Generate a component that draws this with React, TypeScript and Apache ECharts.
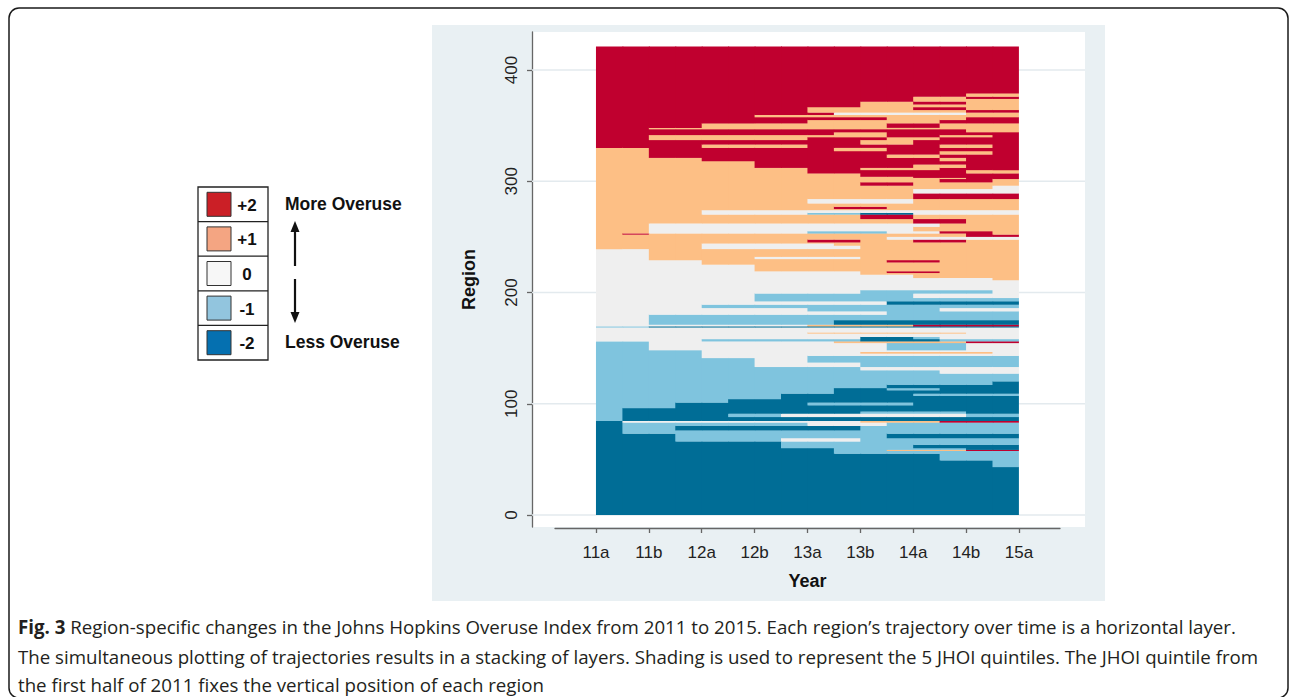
import React, { useEffect, useRef } from 'react';
import * as echarts from 'echarts';

// ---------- data ----------
const periodLabels = ['11a', '11b', '12a', '12b', '13a', '13b', '14a', '14b', '15a'];
const periodValues = [0, 1, 2, 3, 4, 5, 6, 7, 8];
const yTicks = [0, 100, 200, 300, 400];
const legendLabels = ['+2', '+1', '0', '-1', '-2'];
// quintile code in trajectories: 0=-2, 1=-1, 2=0, 3=+1, 4=+2
const chartColors = ['#006d96', '#7fc4de', '#efefef', '#fdbf85', '#c0002f'];
const legendColors = ['#cb1f26', '#f4a582', '#f7f7f7', '#92c5de', '#0570b0'];

// each band: [top region rank, quintile per half-period (16 steps from 11a to 15a)]
const bandsStartMinus2: [number, string][] = [
  [43, '0000000000000000'],
  [49, '0000000000000001'],
  [55, '0000000000000111'],
  [57.5, '0000000001111111'],
  [58.5, '0000000001133344'],
  [60, '0000000001111100'],
  [63, '0000000111110000'],
  [66, '0000000111111111'],
  [69, '0001111222111111'],
  [73, '0001111111100000'],
  [76, '0111111111111111'],
  [80, '0110000000111111'],
  [83, '0111111122211111'],
  [84.5, '0222222222333444'],
];
const bandsStartMinus1: [number, string][] = [
  [88, '1000000000000000'],
  [91, '1000011222222211'],
  [93, '1000000000111100'],
  [96, '1000000000000000'],
  [98.5, '1110000000000000'],
  [101, '1110000011110000'],
  [104, '1111100000000000'],
  [107, '1111111000000000'],
  [109, '1111111000001111'],
  [112, '1111111110000000'],
  [114, '1111111110011000'],
  [117, '1111111111100000'],
  [120, '1111111111111110'],
  [127, '1111111111111111'],
  [130, '1111111111111222'],
  [133, '1111111111222222'],
  [137, '1111112222111111'],
  [141, '1111112211111111'],
  [143, '1111222211111111'],
  [145, '1111222222222222'],
  [146.5, '1111222222333332'],
  [148, '1111222222222222'],
  [154.5, '1122222222211122'],
  [156, '1122222223333344'],
];
const bandsStartZero: [number, string][] = [
  [158, '2222111111000111'],
  [160, '2222222222001222'],
  [163, '2222222222222222'],
  [164, '2222222233333322'],
  [168.5, '2222222222222222'],
  [169.5, '1100000000000000'],
  [171, '2222222233334444'],
  [175, '2211111110000000'],
  [180, '2211111111111111'],
  [183, '2222222222211111'],
  [186, '2222222211111222'],
  [189, '2222111111111111'],
  [192, '2222222222200000'],
  [195, '2222221111111111'],
  [199, '2222221111112222'],
  [202, '2222222222111112'],
  [211, '2222222222222222'],
  [213, '2222222222222223'],
  [216, '2222222222223333'],
  [217.5, '2222222222333333'],
  [219, '2222222222344333'],
  [225, '2222223333333333'],
  [227, '2222333333333333'],
  [229, '2222333333344333'],
  [230, '2233333333333333'],
  [232, '2233332222333333'],
  [239, '2233333333333333'],
];
const bandsStartPlus1: [number, string][] = [
  [242, '3333222222333333'],
  [244, '3333222223333333'],
  [245, '3333333333333333'],
  [247.5, '3333333344334433'],
  [250, '3333333333322222'],
  [252, '3333333333333344'],
  [253, '3433333333333343'],
  [255, '3322222211122443'],
  [259, '3322222222223333'],
  [262, '3322222222222333'],
  [266, '3333333333334433'],
  [270, '3333333333443333'],
  [271.5, '3333222211002222'],
  [274, '3333222222222222'],
  [275, '3333333333333333'],
  [277, '3333333334433333'],
  [280, '3333333333333333'],
  [284, '3333333322223333'],
  [289, '3333333333334444'],
  [293, '3333333333332222'],
  [296, '3333333333333332'],
  [299, '3333333333443333'],
  [302, '3333333333333443'],
  [303, '3333333333333344'],
  [304, '3333333333334444'],
  [307, '3333333333444444'],
  [310, '3333333344444433'],
  [312, '3333333344333444'],
  [315, '3333334444443344'],
  [318, '3333334444444444'],
  [321, '3333444444444344'],
  [324, '3344444444433444'],
  [327, '3344444444444334'],
  [330, '3344444443344444'],
];
const bandsStartPlus2: [number, string][] = [
  [333, '4444333344444334'],
  [337, '4444444444334444'],
  [339.5, '4433333344433444'],
  [341.5, '4433333333344334'],
  [344, '4444444443344444'],
  [346.7, '4444444444444433'],
  [348, '4433333333333333'],
  [352, '4444333333344333'],
  [355, '4444444433333444'],
  [357.5, '4444444444433344'],
  [359.6, '4444443333333333'],
  [361.7, '4444444442222233'],
  [364, '4444444433333344'],
  [366.5, '4444444433334433'],
  [369, '4444444444333333'],
  [371.6, '4444444444334433'],
  [374, '4444444444443333'],
  [376, '4444444444443344'],
  [379, '4444444444444433'],
  [421, '4444444444444444'],
];

const captionLine1 = '{b|Fig. 3} Region-specific changes in the Johns Hopkins Overuse Index from 2011 to 2015. Each region\u2019s trajectory over time is a horizontal layer.';
const captionLine2 = 'The simultaneous plotting of trajectories results in a stacking of layers. Shading is used to represent the 5 JHOI quintiles. The JHOI quintile from';
const captionLine3 = 'the first half of 2011 fixes the vertical position of each region';

// merge bands column by column into vertical runs: [x0, x1, y0, y1, q, lastColumnFlag]
function buildRects(): number[][] {
  const bands = [...bandsStartMinus2, ...bandsStartMinus1, ...bandsStartZero, ...bandsStartPlus1, ...bandsStartPlus2];
  const nCols = bands[0][1].length;
  const out: number[][] = [];
  for (let c = 0; c < nCols; c++) {
    let bottom = 0;
    let runStart = 0;
    let runQ = -1;
    for (const [top, path] of bands) {
      const q = Number(path[c]);
      if (q !== runQ) {
        if (runQ >= 0) out.push([c * 0.5, (c + 1) * 0.5, runStart, bottom, runQ, c === nCols - 1 ? 1 : 0]);
        runQ = q;
        runStart = bottom;
      }
      bottom = top;
    }
    out.push([c * 0.5, (c + 1) * 0.5, runStart, bottom, runQ, c === nCols - 1 ? 1 : 0]);
  }
  return out;
}

const AX = 'Liberation Sans, Arial, sans-serif';

export default function App() {
  const ref = useRef<HTMLDivElement>(null);
  useEffect(() => {
    document.body.style.margin = '0';
    const chart = echarts.init(ref.current!, null, { renderer: 'svg' });
    const rects = buildRects();

    const legendEls: any[] = [];
    const lx = 198, ly = 187, lw = 70, rowH = 34.6;
    legendEls.push({ type: 'rect', shape: { x: lx, y: ly, width: lw, height: rowH * 5 }, style: { fill: '#fff', stroke: '#222', lineWidth: 1.3 } });
    legendLabels.forEach((lab, i) => {
      const top = ly + i * rowH;
      if (i > 0) legendEls.push({ type: 'line', shape: { x1: lx, y1: top, x2: lx + lw, y2: top }, style: { stroke: '#222', lineWidth: 1.2 } });
      legendEls.push({ type: 'rect', shape: { x: 207, y: top + 5.3, width: 24, height: 24 }, style: { fill: legendColors[i], stroke: '#333', lineWidth: 1 } });
      legendEls.push({ type: 'text', x: 247, y: top + rowH / 2 + 1, style: { text: lab, fontFamily: AX, fontWeight: 'bold', fontSize: 17, fill: '#111', align: 'center', verticalAlign: 'middle' } });
    });
    legendEls.push({ type: 'text', x: 285, y: 204, style: { text: 'More Overuse', fontFamily: AX, fontWeight: 'bold', fontSize: 17.5, fill: '#111', align: 'left', verticalAlign: 'middle' } });
    legendEls.push({ type: 'text', x: 285, y: 342, style: { text: 'Less Overuse', fontFamily: AX, fontWeight: 'bold', fontSize: 17.5, fill: '#111', align: 'left', verticalAlign: 'middle' } });
    legendEls.push({ type: 'line', shape: { x1: 295, y1: 266, x2: 295, y2: 230 }, style: { stroke: '#111', lineWidth: 2.2 } });
    legendEls.push({ type: 'polygon', shape: { points: [[290.5, 232], [299.5, 232], [295, 221]] }, style: { fill: '#111' } });
    legendEls.push({ type: 'line', shape: { x1: 295, y1: 279, x2: 295, y2: 314 }, style: { stroke: '#111', lineWidth: 2.2 } });
    legendEls.push({ type: 'polygon', shape: { points: [[290.5, 312], [299.5, 312], [295, 323]] }, style: { fill: '#111' } });

    const capFont = 'Open Sans, Noto Sans, sans-serif';
    const capSize = 18.7;
    const capStyle = { fontFamily: capFont, fontSize: capSize, fill: '#231f20', align: 'left', verticalAlign: 'middle' };

    chart.setOption({
      animation: false,
      backgroundColor: '#ffffff',
      grid: [
        { left: 532, right: 205, top: 32, bottom: 170, containLabel: false },
        { left: 555, right: 230, top: 32, bottom: 169, containLabel: false },
      ],
      xAxis: [
        { type: 'value', gridIndex: 0, min: -1.21, max: 9.25, show: false },
        {
          type: 'value', gridIndex: 1, min: -0.775, max: 8.775, position: 'bottom',
          axisLine: { show: true, onZero: false, lineStyle: { color: '#666', width: 1.3 } },
          axisTick: { show: true, length: 5, customValues: periodValues, lineStyle: { color: '#666', width: 1.3 } },
          axisLabel: { show: true, customValues: periodValues, formatter: (v: number) => periodLabels[Math.round(v)] ?? '', fontFamily: AX, fontSize: 17, color: '#222', margin: 16 },
          splitLine: { show: false },
          name: 'Year', nameLocation: 'middle', nameGap: 44,
          nameTextStyle: { fontFamily: AX, fontWeight: 'bold', fontSize: 18, color: '#111' },
        },
      ],
      yAxis: [
        {
          type: 'value', gridIndex: 0, min: -10.8, max: 434.2, position: 'left',
          axisLine: { show: true, onZero: false, lineStyle: { color: '#666', width: 1.3 } },
          axisTick: { show: true, length: 5, customValues: yTicks, lineStyle: { color: '#666', width: 1.3 } },
          axisLabel: { show: true, customValues: yTicks, rotate: 90, fontFamily: AX, fontSize: 17, color: '#222', margin: 12 },
          splitLine: { show: false },
          name: 'Region', nameLocation: 'middle', nameGap: 54,
          nameTextStyle: { fontFamily: AX, fontWeight: 'bold', fontSize: 18, color: '#111' },
        },
        { type: 'value', gridIndex: 1, min: 0, max: 1, show: false },
      ],
      graphic: {
        elements: [
          { type: 'rect', z: -20, shape: { x: 432, y: 25, width: 673, height: 576 }, style: { fill: '#e9f0f3' } },
          { type: 'rect', z: -19, shape: { x: 532, y: 32, width: 553, height: 495 }, style: { fill: '#ffffff' } },
          { type: 'rect', z: 50, shape: { x: 9, y: 8, width: 1279, height: 690, r: 10 }, style: { fill: 'none', stroke: '#1a1a1a', lineWidth: 1.5 } },
          ...legendEls,
          { type: 'text', x: 18, y: 626, style: { ...capStyle, text: captionLine1, rich: { b: { fontFamily: capFont, fontSize: capSize, fontWeight: 'bold', fill: '#231f20' } } } },
          { type: 'text', x: 18, y: 656, style: { ...capStyle, text: captionLine2 } },
          { type: 'text', x: 18, y: 684, style: { ...capStyle, text: captionLine3 } },
        ],
      },
      series: [
        {
          type: 'custom', name: 'grid', xAxisIndex: 0, yAxisIndex: 0, z: 1, silent: true, clip: false,
          data: yTicks.map((v) => [v]),
          encode: { y: 0 },
          renderItem: (params: any, api: any) => {
            const cs = params.coordSys;
            const y = api.coord([0, api.value(0)])[1];
            return { type: 'line', shape: { x1: cs.x, y1: y, x2: cs.x + cs.width, y2: y }, style: { stroke: '#e3eaee', lineWidth: 1.6 } };
          },
        },
        {
          type: 'custom', name: 'regions', xAxisIndex: 0, yAxisIndex: 0, z: 2, silent: true, clip: false,
          dimensions: ['x0', 'x1', 'y0', 'y1', 'q', 'last'],
          encode: { x: [0, 1], y: [2, 3] },
          data: rects,
          renderItem: (params: any, api: any) => {
            const p0 = api.coord([api.value(0), api.value(3)]);
            const p1 = api.coord([api.value(1), api.value(2)]);
            const c = chartColors[api.value(4)];
            const extra = api.value(5) ? 0 : 1;
            return { type: 'rect', shape: { x: p0[0], y: p0[1] - 0.3, width: p1[0] - p0[0] + extra, height: p1[1] - p0[1] + 0.3 }, style: { fill: c } };
          },
        },
      ],
    });
    return () => chart.dispose();
  }, []);
  return <div ref={ref} style={{ width: 1290, height: 697 }} />;
}
